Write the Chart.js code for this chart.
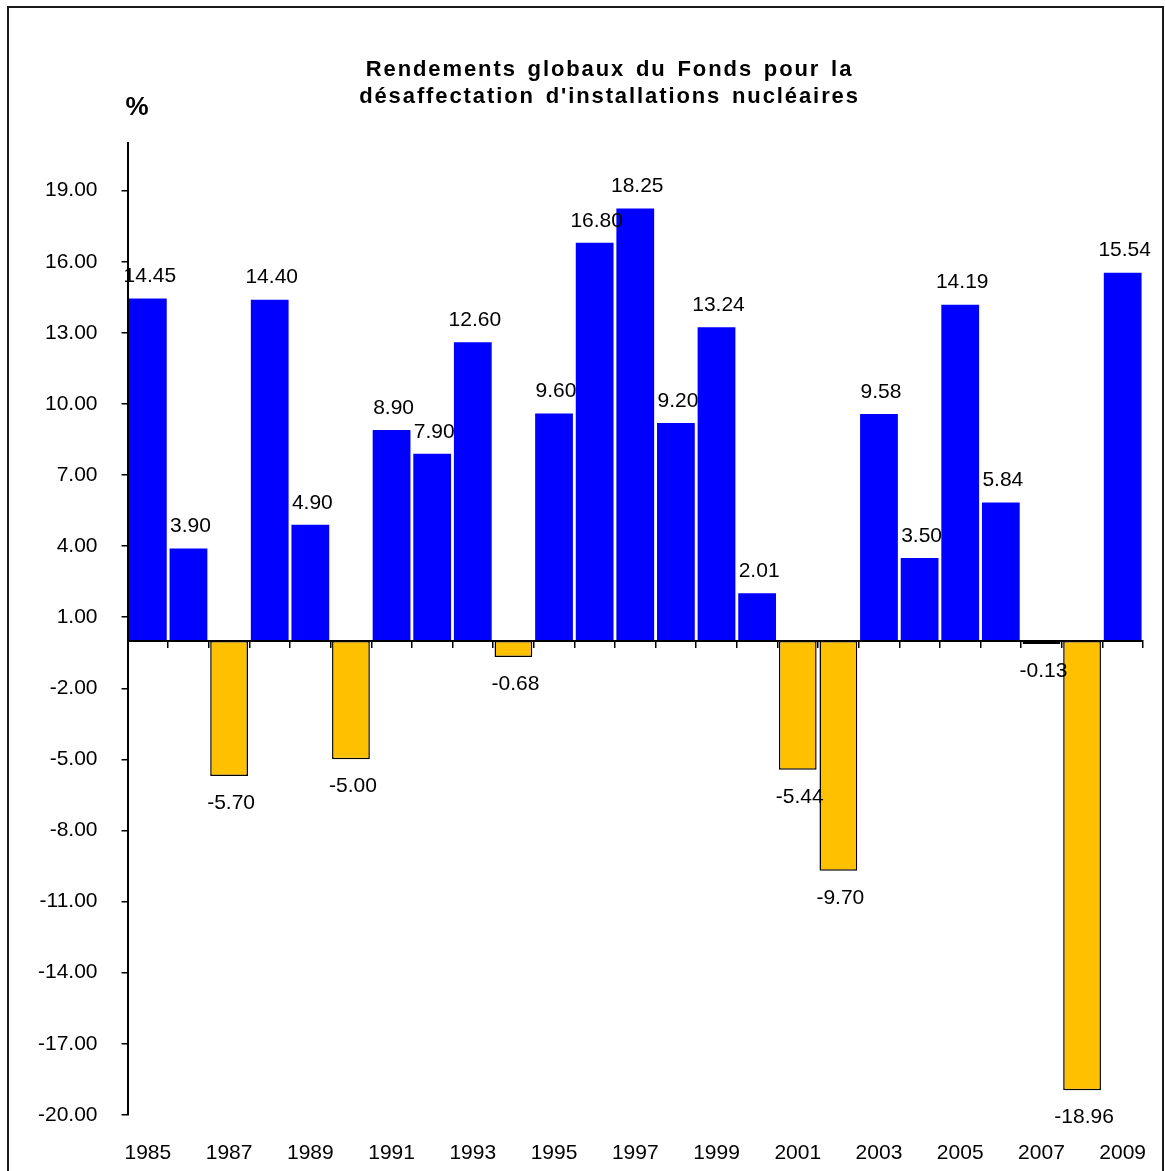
<!DOCTYPE html>
<html>
<head>
<meta charset="utf-8">
<script src="https://cdn.jsdelivr.net/npm/chart.js@4.4.1/dist/chart.umd.min.js"></script>
<style>
html,body{margin:0;padding:0;background:#fff;overflow:hidden;}
#wrap{position:relative;width:1165px;height:1171px;}
#frame{position:absolute;left:7px;top:6px;width:1157px;height:1190px;border:2px solid #1a1a1a;box-sizing:border-box;pointer-events:none;}
canvas{position:absolute;left:0;top:0;}
</style>
</head>
<body>
<div id="wrap"><canvas id="c" width="1165" height="1171"></canvas><div id="frame"></div></div>
<script>
const YEARS = ['1985','1986','1987','1988','1989','1990','1991','1992','1993','1994','1995','1996','1997','1998','1999','2000','2001','2002','2003','2004','2005','2006','2007','2008','2009'];
const VALUES = [14.45, 3.90, -5.70, 14.40, 4.90, -5.00, 8.90, 7.90, 12.60, -0.68, 9.60, 16.80, 18.25, 9.20, 13.24, 2.01, -5.44, -9.70, 9.58, 3.50, 14.19, 5.84, -0.13, -18.96, 15.54];
const X_TICK_LABELS = ['1985','1987','1989','1991','1993','1995','1997','1999','2001','2003','2005','2007','2009'];
const Y_TICKS = [-20, -17, -14, -11, -8, -5, -2, 1, 4, 7, 10, 13, 16, 19];
const Y_MIN = -20;
const Y_MAX = 21;
const TITLE_LINES = ['Rendements globaux du Fonds pour la', "désaffectation d'installations nucléaires"];
const Y_UNIT = '%';

const FONT = '"Liberation Sans", Arial, Helvetica, sans-serif';
const POS_COLOR = '#0000FF';
const NEG_COLOR = '#FFC000';
const TITLE_SHIFT = 31;

const titleStyle = {
  id: 'titleStyle',
  beforeDraw(chart) {
    const ctx = chart.ctx;
    ctx.save();
    ctx.letterSpacing = '1.9px';
    ctx.wordSpacing = '2.8px';
    ctx.translate(TITLE_SHIFT, 0);
  },
  beforeDatasetsDraw(chart) {
    chart.ctx.restore();
  }
};

const valueLabels = {
  id: 'valueLabels',
  afterDatasetsDraw(chart) {
    const ctx = chart.ctx;
    const meta = chart.getDatasetMeta(0);
    ctx.save();
    ctx.font = '21px ' + FONT;
    ctx.fillStyle = '#000';
    ctx.textAlign = 'center';
    ctx.textBaseline = 'middle';
    meta.data.forEach((bar, i) => {
      const v = VALUES[i];
      ctx.fillText(v.toFixed(2), bar.x + 2, v >= 0 ? bar.y - 22 : bar.y + 27);
    });
    ctx.restore();
  }
};

const unitLabel = {
  id: 'unitLabel',
  afterDraw(chart) {
    const ctx = chart.ctx;
    const a = chart.chartArea;
    ctx.save();
    ctx.font = 'bold 26px ' + FONT;
    ctx.fillStyle = '#000';
    ctx.textAlign = 'left';
    ctx.textBaseline = 'middle';
    ctx.fillText(Y_UNIT, a.left - 2, a.top - 35);
    ctx.restore();
  }
};

new Chart(document.getElementById('c'), {
  type: 'bar',
  data: {
    labels: YEARS,
    datasets: [{
      data: VALUES,
      backgroundColor: VALUES.map(v => v >= 0 ? POS_COLOR : NEG_COLOR),
      borderColor: '#000',
      borderWidth: VALUES.map(v => v >= 0 ? 0 : 1.5),
      borderSkipped: false,
      categoryPercentage: 1,
      barPercentage: 0.93,
      xAxisID: 'x',
      yAxisID: 'y'
    }]
  },
  options: {
    responsive: false,
    animation: false,
    devicePixelRatio: 1,
    layout: { padding: { left: 14, right: 22, top: 57, bottom: -21 } },
    plugins: {
      legend: { display: false },
      tooltip: { enabled: false },
      title: {
        display: true,
        text: TITLE_LINES,
        color: '#000',
        font: { family: FONT, size: 22, weight: 'bold', lineHeight: 1.2 },
        padding: { top: 0, bottom: 33.5 }
      }
    },
    scales: {
      x: {
        type: 'category',
        position: 'bottom',
        offset: true,
        grid: { display: false, drawTicks: false, z: 1 },
        border: { display: false, z: 1 },
        ticks: {
          z: 1,
          autoSkip: false,
          maxRotation: 0,
          minRotation: 0,
          padding: 26,
          color: '#000',
          font: { family: FONT, size: 21 },
          callback: function(val, i) { return X_TICK_LABELS.includes(YEARS[i]) ? YEARS[i] : ''; }
        },
        afterFit(scale) { scale.paddingLeft = 0; scale.paddingRight = 0; }
      },
      x2: {
        type: 'category',
        position: { y: 0 },
        offset: true,
        grid: { display: true, offset: true, drawOnChartArea: false, drawTicks: true, tickLength: 6, color: '#000', lineWidth: 1.5, z: 1 },
        border: { display: true, color: '#000', width: 2, z: 1 },
        ticks: { display: false, z: 1 },
        afterFit(scale) { scale.paddingLeft = 0; scale.paddingRight = 0; }
      },
      y: {
        type: 'linear',
        position: 'left',
        min: Y_MIN,
        max: Y_MAX,
        afterBuildTicks(scale) { scale.ticks = Y_TICKS.map(v => ({ value: v })); },
        grid: { display: true, drawOnChartArea: false, drawTicks: true, tickLength: 6, color: '#000', lineWidth: 1.5, z: 1 },
        border: { display: true, color: '#000', width: 2, z: 1 },
        ticks: {
          z: 1,
          padding: 24,
          color: '#000',
          font: { family: FONT, size: 21 },
          callback: v => Number(v).toFixed(2)
        }
      }
    }
  },
  plugins: [titleStyle, valueLabels, unitLabel]
});
</script>
</body>
</html>
